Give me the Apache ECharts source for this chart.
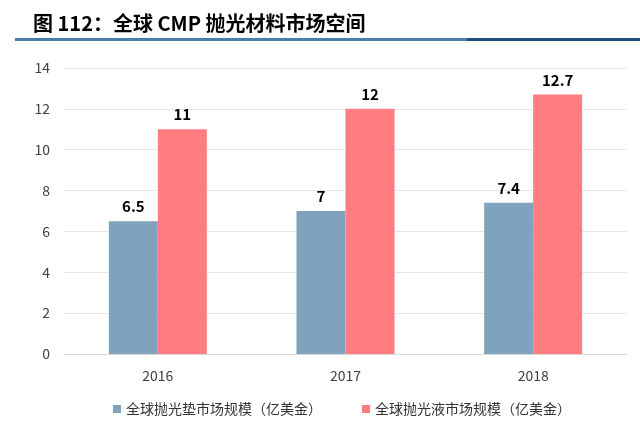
<!DOCTYPE html>
<html>
<head>
<meta charset="utf-8">
<script src="https://cdn.jsdelivr.net/npm/echarts@6/dist/echarts.min.js"></script>
<style>
  html, body { margin: 0; padding: 0; background: #fff; }
  #chart { width: 640px; height: 422px; }
</style>
</head>
<body>
<div id="chart"></div>
<script>
// 数据
const years = ['2016', '2017', '2018'];
const padMarket = [6.5, 7, 7.4];       // 全球抛光垫市场规模（亿美金）
const slurryMarket = [11, 12, 12.7];   // 全球抛光液市场规模（亿美金）
const seriesNames = ['全球抛光垫市场规模（亿美金）', '全球抛光液市场规模（亿美金）'];

const chart = echarts.init(document.getElementById('chart'));

const fontCJK = '"Noto Sans CJK SC", "Noto Sans", sans-serif';

chart.setOption({
    backgroundColor: '#fff',
    textStyle: { fontFamily: fontCJK },
    title: {
        text: '图 112：全球 CMP 抛光材料市场空间',
        left: 28,
        top: 8,
        textStyle: { fontSize: 20, fontWeight: 'bold', color: '#000', fontFamily: fontCJK }
    },
    // 标题下方的分隔线
    graphic: [
        { type: 'rect', shape: { x: 15, y: 38, width: 452, height: 3 }, style: { fill: '#4a7ea8' } },
        { type: 'rect', shape: { x: 467, y: 38, width: 173, height: 3 }, style: { fill: '#1d4f7c' } }
    ],
    legend: {
        data: seriesNames,
        top: 397,
        left: 108,
        itemWidth: 8,
        itemHeight: 8,
        itemGap: 40,
        icon: 'rect',
        textStyle: { fontSize: 14, color: '#333', fontFamily: fontCJK }
    },
    grid: { left: 64, right: 13, top: 68, bottom: 68 },
    xAxis: {
        type: 'category',
        data: years,
        axisLine: { lineStyle: { color: '#d9d9d9' } },
        axisTick: { show: false },
        axisLabel: { fontSize: 14, color: '#404040', margin: 15 }
    },
    yAxis: {
        type: 'value',
        min: 0,
        max: 14,
        interval: 2,
        axisLine: { show: false },
        axisTick: { show: false },
        axisLabel: { fontSize: 14, color: '#404040', margin: 14 },
        splitLine: { lineStyle: { color: '#e6e6e6' } }
    },
    series: [
        {
            name: seriesNames[0],
            type: 'bar',
            data: padMarket,
            barWidth: 49,
            barGap: '0%',
            itemStyle: { color: '#7fa3bc' },
            label: { show: true, position: 'top', distance: 7, fontSize: 15, fontWeight: 'bold', color: '#000' }
        },
        {
            name: seriesNames[1],
            type: 'bar',
            data: slurryMarket,
            barWidth: 49,
            itemStyle: { color: '#ff7c80' },
            label: { show: true, position: 'top', distance: 7, fontSize: 15, fontWeight: 'bold', color: '#000' }
        }
    ]
});
</script>
</body>
</html>
